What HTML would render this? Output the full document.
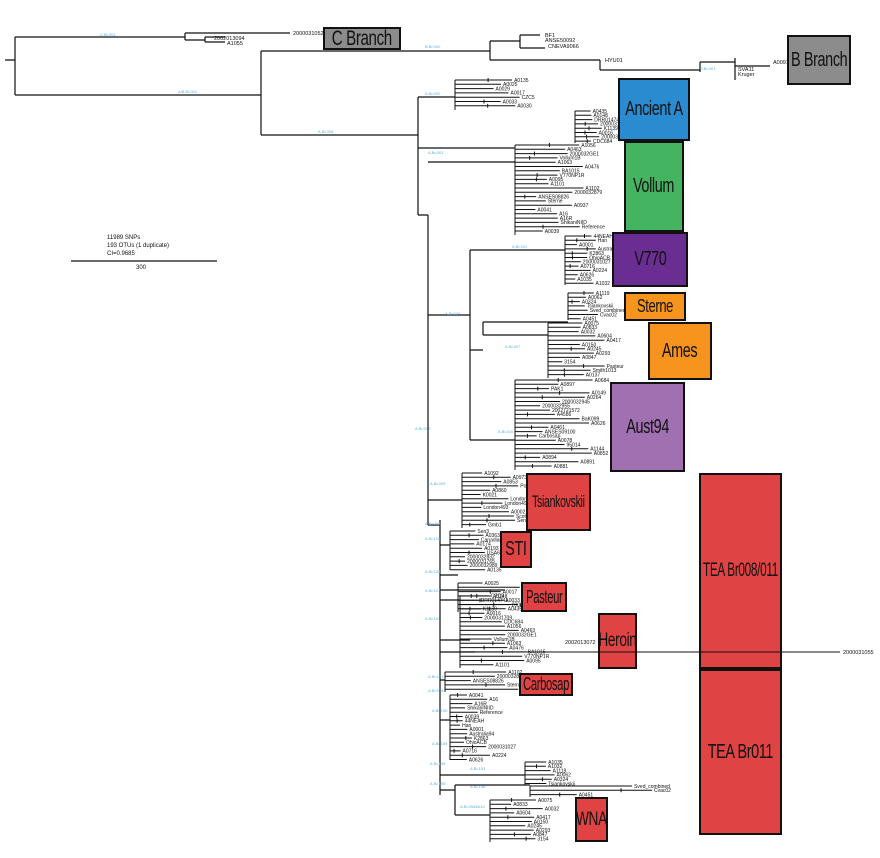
<!DOCTYPE html>
<html><head><meta charset="utf-8">
<style>
html,body{margin:0;padding:0;background:#fff;}
svg{display:block;font-family:"Liberation Sans",sans-serif;}
.b{position:absolute;border:2px solid #111;box-sizing:border-box;display:flex;align-items:center;justify-content:center;font-family:"Liberation Sans",sans-serif;color:#111;letter-spacing:-0.5px;white-space:nowrap;overflow:visible;}
.b span{display:inline-block;transform:scaleX(0.72);white-space:nowrap;}
.b.n span{transform:scaleX(0.62);}
</style></head>
<body>
<div style="position:relative;width:880px;height:858px;overflow:hidden;">
<svg id="s" width="880" height="858" viewBox="0 0 880 858" style="position:absolute;left:0;top:0;">
<g stroke="#111" stroke-width="1.2" fill="none">
<path d="M5 60H15M15 37V95M15 37H185M185 33V40M185 33H290M185 40H205M205 37V42M205 37H225M205 42H225"/>
<path d="M15 95H261M261 51V135M261 51H490M261 135H418M418 97V215M418 215H428M428 215V525M428 525H440M440 520V795"/>
<path d="M490 41V60M490 41H520M490 60H600M520 35V48M520 35H540M520 48H545M600 60V70M600 70H700M700 62V72M700 62H735M735 58V80M735 66H770"/>
<path d="M418 97H455M418 148H515M428 162H515M428 315H470M470 250V440M470 250H565M470 350H483M483 322V335M483 322H568M483 335H548M470 440H515M428 500H462M440 545H450M440 575H458M440 590H505M440 600H460M440 640H470M440 652H475M440 680H445M440 720H450M440 775H525M440 790H455M455 785V815M455 785H530M455 815H490"/>
</g>
<g id="bush" stroke="#111" stroke-width="1" fill="none"></g>
<g id="lab" font-size="5" fill="#111"></g>
<g font-size="4" fill="#5ab0e8">
<text x="100" y="36">C.Br.001</text><text x="178" y="93">A/B.Br.001</text><text x="318" y="133">A.Br.008</text>
<text x="425" y="95">A.Br.002</text><text x="428" y="154">A.Br.003</text><text x="512" y="248">A.Br.001</text>
<text x="445" y="315">A.Br.004</text><text x="505" y="348">A.Br.007</text><text x="498" y="433">A.Br.010</text>
<text x="415" y="430">A.Br.012</text><text x="430" y="485">A.Br.009</text><text x="425" y="525">A.Br.008</text>
<text x="425" y="540">A.Br.118</text><text x="425" y="573">A.Br.128</text><text x="425" y="592">A.Br.127</text>
<text x="425" y="620">A.Br.161</text><text x="428" y="678">A.Br.031</text><text x="428" y="692">A.Br.004</text>
<text x="432" y="712">A.Br.150</text><text x="432" y="745">A.Br.159</text><text x="430" y="765">A.Br.158</text>
<text x="430" y="785">A.Br.155</text><text x="470" y="770">A.Br.153</text><text x="470" y="788">A.Br.148</text>
<text x="460" y="808">A.Br.008&amp;010</text><text x="425" y="48">B.Br.002</text><text x="700" y="70">B.Br.001</text>
</g>
<g font-size="5.5" fill="#111">
<text x="293" y="35">2000031052</text><text x="214" y="40">2002013094</text><text x="227" y="45">A1055</text>
<text x="545" y="37">BF1</text><text x="545" y="42">ANSE50092</text><text x="548" y="48">CNEVA9066</text>
<text x="605" y="62">HYU01</text><text x="773" y="64">A0091</text><text x="738" y="71">SVA11</text><text x="738" y="76">Kruger</text>
<text x="843" y="654">2000031055</text><text x="565" y="644">2002013072</text>
<text x="107" y="239" font-size="6">11989 SNPs</text><text x="107" y="247" font-size="6">193 OTUs (1 duplicate)</text><text x="107" y="255" font-size="6">CI=0.9685</text>
<text x="136" y="269" font-size="6">300</text>
</g>
<path d="M71 261H217" stroke="#111" stroke-width="1.2"/>
</svg>
<div class="b" style="left:323px;top:27px;width:78px;height:23px;background:#8c8c8c;font-size:21px;"><span>C Branch</span></div>
<div class="b" style="left:787px;top:35px;width:64px;height:50px;background:#8c8c8c;font-size:20px;"><span>B Branch</span></div>
<div class="b" style="left:618px;top:78px;width:72px;height:63px;background:#2a8bd0;font-size:20px;"><span>Ancient A</span></div>
<div class="b" style="left:624px;top:141px;width:60px;height:91px;background:#45b460;font-size:20px;"><span>Vollum</span></div>
<div class="b" style="left:612px;top:232px;width:76px;height:55px;background:#6a2d91;font-size:20px;"><span>V770</span></div>
<div class="b" style="left:624px;top:292px;width:62px;height:29px;background:#f7941d;font-size:18px;"><span>Sterne</span></div>
<div class="b" style="left:648px;top:322px;width:64px;height:58px;background:#f7941d;font-size:20px;"><span>Ames</span></div>
<div class="b" style="left:610px;top:382px;width:75px;height:90px;background:#a070b0;font-size:20px;"><span>Aust94</span></div>
<div class="b n" style="left:526px;top:473px;width:65px;height:58px;background:#e04343;font-size:17px;"><span>Tsiankovskii</span></div>
<div class="b" style="left:500px;top:531px;width:32px;height:37px;background:#e04343;font-size:20px;"><span>STI</span></div>
<div class="b n" style="left:521px;top:582px;width:46px;height:30px;background:#e04343;font-size:18px;"><span>Pasteur</span></div>
<div class="b" style="left:598px;top:613px;width:39px;height:56px;background:#e04343;font-size:19px;"><span>Heroin</span></div>
<div class="b n" style="left:519px;top:673px;width:54px;height:23px;background:#e04343;font-size:18px;"><span>Carbosap</span></div>
<div class="b" style="left:575px;top:797px;width:33px;height:45px;background:#e04343;font-size:19px;"><span>WNA</span></div>
<div class="b n" style="left:699px;top:473px;width:83px;height:196px;background:#e04343;font-size:19px;"><span>TEA Br008/011</span></div>
<div class="b" style="left:699px;top:669px;width:83px;height:166px;background:#e04343;font-size:20px;"><span>TEA Br011</span></div>
<svg width="880" height="858" style="position:absolute;left:0;top:0;pointer-events:none;"><path d="M475 652H840" stroke="#111" stroke-width="1"/></svg>
</div>
<script>
var seed=7;function r(){seed=(seed*9301+49297)%233280;return seed/233280;}
var names=["A0135","A0025","A0029","A0017","CZC5","A0033","A0030","A0435","A0148","DRR014741","2000031038","K1139","A0016","2000031709","CDC684","A1056","A0463","2000032GE1","Vollum1B","A1063","A0476","BA1015","V770NP1R","A0095","A1101","A1102","2000032879","ANSES08826","Sterne","A0937","A0041","A16","A16R","ShikaniNIID","Reference","A0039","44NEAH","Han","A0001","Australia94","K2863","OhioACB","2000031027","A0716","A0224","A0626","A1035","A1032","A1119","A0062","A0324","Tsiankovskii","Sved_combined","Cvac02","A0451","A0075","A0833","A0032","A0604","A0417","A0150","A0245","A0293","A0847","3154","Pasteur","Smith1013","A0137","A0684","A0897","PAK1","A0149","A0264","2000032945","2000032955","2002721572","A4586","BaK099","A0626","A0461","ANSES09100","Carbosap","A0078","95014","A1144","A0852","A0894","A0891","A0881","A1092","A0973","A0853","Pollino","A0860","K0021","London496","London491","London493","A0002","Scotland483","Sen2Col2","Gmb1","Sen3","A0363","CanadianBison","A0174","A0193","USA6153","2000032832","2000031765","2000032989"];
var ni=0;
var cl=[[455,80,110,490,535],[575,111,143,590,602],[515,145,235,535,585],[565,236,285,575,600],[568,293,320,578,600],[548,323,378,560,605],[515,380,470,535,595],[462,473,528,475,520],[450,531,570,465,495],[458,583,612,475,520],[460,596,668,475,540],[445,672,692,470,520],[450,695,760,460,490],[525,762,785,545,555],[530,786,797,560,655],[490,800,842,500,545]];
var NS="http://www.w3.org/2000/svg",B=document.getElementById("bush"),L=document.getElementById("lab");
cl.forEach(function(c){var x0=c[0],y0=c[1],y1=c[2];var d="M"+x0+" "+y0+"V"+y1;
for(var y=y0;y<=y1;y+=4.3){var tx=c[3]+r()*(c[4]-c[3]);var mx=x0+(tx-x0)*(0.3+r()*0.5);
d+="M"+x0+" "+y.toFixed(1)+"H"+tx.toFixed(1);if(r()<0.4)d+="M"+mx.toFixed(1)+" "+(y-2).toFixed(1)+"V"+(y+2).toFixed(1);
var t=document.createElementNS(NS,"text");t.setAttribute("x",(tx+2).toFixed(1));t.setAttribute("y",(y+1.8).toFixed(1));t.textContent=names[ni++%names.length];L.appendChild(t);}
var p=document.createElementNS(NS,"path");p.setAttribute("d",d);B.appendChild(p);});
</script>
</body></html>
